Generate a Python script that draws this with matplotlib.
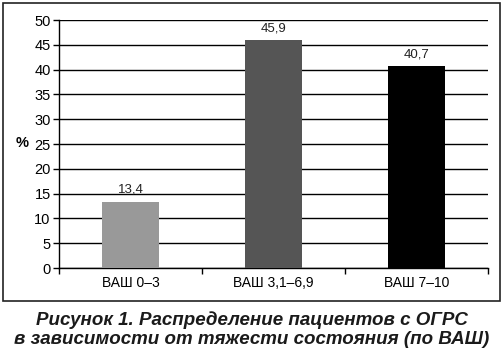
import matplotlib.pyplot as plt
from matplotlib.patches import Rectangle

# Data
categories = ['ВАШ 0–3', 'ВАШ 3,1–6,9', 'ВАШ 7–10']
values = [13.4, 45.9, 40.7]
value_labels = ['13,4', '45,9', '40,7']
bar_colors = ['#999999', '#555555', '#000000']
yticks = [0, 5, 10, 15, 20, 25, 30, 35, 40, 45, 50]

plt.rcParams['font.family'] = ['Liberation Sans', 'DejaVu Sans']

fig = plt.figure(figsize=(5.03, 3.52), dpi=100)
ax = fig.add_axes([59 / 503, 1 - 268 / 352, (488 - 59) / 503, (268 - 20) / 352])

x = range(len(categories))
ax.bar(x, values, width=0.4, color=bar_colors, zorder=3)
for i, v in enumerate(values):
    ax.text(i, v + 1.2, value_labels[i], ha='center', va='bottom', fontsize=9.5, color='#222222')

ax.set_xlim(-0.5, 2.5)
ax.set_ylim(0, 50)
ax.set_yticks(yticks)
ax.set_yticklabels([str(t) for t in yticks], fontsize=10.5)
ax.set_xticks(list(x))
ax.set_xticklabels(categories, fontsize=10)
ax.set_xticks([-0.5, 0.5, 1.5, 2.5], minor=True)
ax.tick_params(axis='x', which='major', length=0, pad=6)
ax.tick_params(axis='x', which='minor', length=4, width=1, direction='out')
ax.tick_params(axis='y', length=4, width=1, pad=2)
ax.yaxis.grid(True, color='black', linewidth=1)
ax.set_axisbelow(True)
for s in ['top', 'right']:
    ax.spines[s].set_visible(False)
ax.spines['left'].set_linewidth(1)
ax.spines['bottom'].set_linewidth(1)

fig.text(22 / 503, 1 - 143 / 352, '%', fontsize=10.5, ha='center', va='center', fontweight='bold')

# outer frame
fig.patches.append(Rectangle((3 / 503, 1 - 301 / 352), 497 / 503, 298 / 352,
                             transform=fig.transFigure, fill=False, edgecolor='#222222', linewidth=1.2))

fig.text(0.5, 1 - 320 / 352, 'Рисунок 1. Распределение пациентов с ОГРС', ha='center', va='center',
         fontsize=13.5, fontweight='bold', fontstyle='italic', color='#1a1a1a')
fig.text(0.5, 1 - 339 / 352, 'в зависимости от тяжести состояния (по ВАШ)', ha='center', va='center',
         fontsize=13.5, fontweight='bold', fontstyle='italic', color='#1a1a1a')

fig.savefig('out.png', dpi=100)
